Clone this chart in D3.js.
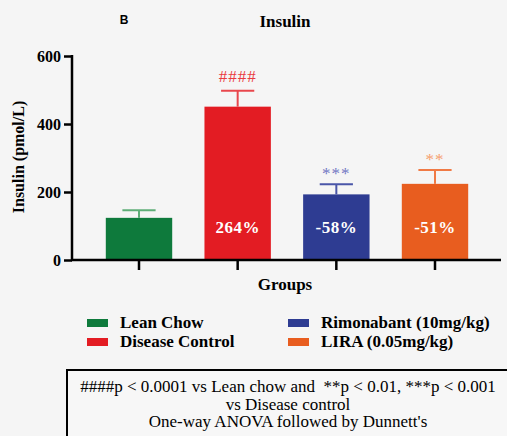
<!DOCTYPE html>
<html>
<head>
<meta charset="utf-8">
<script src="https://cdn.jsdelivr.net/npm/d3@7"></script>
<style>
  body { margin: 0; background: #f5f5f5; }
  svg { display: block; }
</style>
</head>
<body>
<div id="chart"></div>
<script>
// data
const groups = ["Lean Chow", "Disease Control", "Rimonabant (10mg/kg)", "LIRA (0.05mg/kg)"];
const means = [124, 451, 193, 224];
const errors = [22, 47, 30, 41];
const pctLabels = ["", "264%", "-58%", "-51%"];
const sigLabels = ["", "####", "***", "**"];
const yTicks = [0, 200, 400, 600];

const barColors = ["#0e7a3c", "#e31c23", "#2e3c92", "#e85d1f"];
const errColors = ["#5fae78", "#e8474d", "#4a56a8", "#f07a45"];
const sigColors = ["#000", "#ea3a40", "#7378c4", "#f5a070"];

const W = 507, H = 436;

const svg = d3.select("#chart").append("svg")
  .attr("width", W)
  .attr("height", H);

svg.append("rect").attr("width", W).attr("height", H).attr("fill", "#f5f5f5");

const x = d3.scaleBand()
  .domain(groups)
  .range([91, 483])
  .paddingInner(0.327)
  .paddingOuter(0.15);

const y = d3.scaleLinear()
  .domain([0, 600])
  .range([260, 56]);

// the generic family is what resolves to a Times-like face here
const serif = "serif";

function boldSerif(sel, size, color) {
  sel.attr("font-family", serif)
    .attr("font-size", size + "px")
    .attr("font-weight", "bold")
    .attr("fill", color);
}

// bars
svg.selectAll(".bar")
  .data(groups)
  .enter()
  .append("rect")
  .attr("class", "bar")
  .attr("x", d => x(d))
  .attr("y", (d, i) => y(means[i]))
  .attr("width", x.bandwidth())
  .attr("height", (d, i) => y(0) - y(means[i]))
  .attr("fill", (d, i) => barColors[i]);

// error bars (upper only)
const eb = svg.selectAll(".err")
  .data(groups)
  .enter()
  .append("g")
  .attr("stroke", (d, i) => errColors[i])
  .attr("stroke-width", 2);

eb.append("line")
  .attr("x1", d => x(d) + x.bandwidth() / 2)
  .attr("x2", d => x(d) + x.bandwidth() / 2)
  .attr("y1", (d, i) => y(means[i]))
  .attr("y2", (d, i) => y(means[i] + errors[i]));

eb.append("line")
  .attr("x1", d => x(d) + x.bandwidth() / 4)
  .attr("x2", d => x(d) + x.bandwidth() * 3 / 4)
  .attr("y1", (d, i) => y(means[i] + errors[i]))
  .attr("y2", (d, i) => y(means[i] + errors[i]));

// significance marks
svg.selectAll(".sig")
  .data(groups)
  .enter()
  .append("text")
  .attr("x", d => x(d) + x.bandwidth() / 2)
  .attr("y", (d, i) => y(means[i] + errors[i]) - (i === 1 ? 9 : 5))
  .attr("text-anchor", "middle")
  .attr("font-family", serif)
  .attr("font-size", "17px")
  .attr("letter-spacing", "1px")
  .attr("fill", (d, i) => sigColors[i])
  .text((d, i) => sigLabels[i]);

// percentage labels inside bars
svg.selectAll(".pct")
  .data(groups)
  .enter()
  .append("text")
  .attr("x", d => x(d) + x.bandwidth() / 2)
  .attr("y", 233)
  .attr("text-anchor", "middle")
  .attr("letter-spacing", "0.5px")
  .call(boldSerif, 17, "#fff")
  .text((d, i) => pctLabels[i]);

// axes
const yAxis = svg.append("g")
  .attr("transform", "translate(72,0)")
  .call(d3.axisLeft(y).tickValues(yTicks).tickSize(8).tickPadding(3));

const xAxis = svg.append("g")
  .attr("transform", "translate(0,260)")
  .call(d3.axisBottom(x).tickSize(10).tickFormat(""));

[yAxis, xAxis].forEach(a => {
  a.select(".domain").attr("stroke", "#000").attr("stroke-width", 2.5);
  a.selectAll(".tick line").attr("stroke", "#000").attr("stroke-width", 2.5);
});
xAxis.select(".domain").attr("d", "M71,0H501");
yAxis.select(".domain").attr("d", "M0,55V261");
yAxis.selectAll(".tick text")
  .call(boldSerif, 16, "#000");

// titles
svg.append("text")
  .attr("x", 124).attr("y", 24)
  .attr("text-anchor", "middle")
  .attr("font-family", "sans-serif")
  .attr("font-size", "12px")
  .attr("font-weight", "bold")
  .text("B");

svg.append("text")
  .attr("x", 285).attr("y", 27)
  .attr("text-anchor", "middle")
  .call(boldSerif, 17, "#000")
  .text("Insulin");

svg.append("text")
  .attr("transform", "translate(24,157) rotate(-90)")
  .attr("text-anchor", "middle")
  .call(boldSerif, 16, "#000")
  .text("Insulin (pmol/L)");

svg.append("text")
  .attr("x", 285).attr("y", 290)
  .attr("text-anchor", "middle")
  .call(boldSerif, 17, "#000")
  .text("Groups");

// legend
const legendPos = [[87, 323], [87, 342], [288, 323], [288, 342]];
const legend = svg.selectAll(".legend-item")
  .data(groups)
  .enter()
  .append("g")
  .attr("transform", (d, i) => `translate(${legendPos[i][0]},${legendPos[i][1]})`);

legend.append("rect")
  .attr("x", 0).attr("y", -4)
  .attr("width", 21).attr("height", 8)
  .attr("fill", (d, i) => barColors[i]);

legend.append("text")
  .attr("x", 33).attr("y", 5)
  .call(boldSerif, 17, "#000")
  .text(d => d);

// footnote box
svg.append("rect")
  .attr("x", 67).attr("y", 370)
  .attr("width", 460).attr("height", 80)
  .attr("fill", "#f7f7f7")
  .attr("stroke", "#000")
  .attr("stroke-width", 2);

const notes = [
  "####p < 0.0001 vs Lean chow and  **p < 0.01, ***p < 0.001",
  "vs Disease control",
  "One-way ANOVA followed by Dunnett's"
];
svg.selectAll(".note")
  .data(notes)
  .enter()
  .append("text")
  .attr("x", 288)
  .attr("y", (d, i) => 392 + i * 17.5)
  .attr("text-anchor", "middle")
  .attr("font-family", serif)
  .attr("font-size", "17px")
  .attr("xml:space", "preserve")
  .style("white-space", "pre")
  .text(d => d);
</script>
</body>
</html>
